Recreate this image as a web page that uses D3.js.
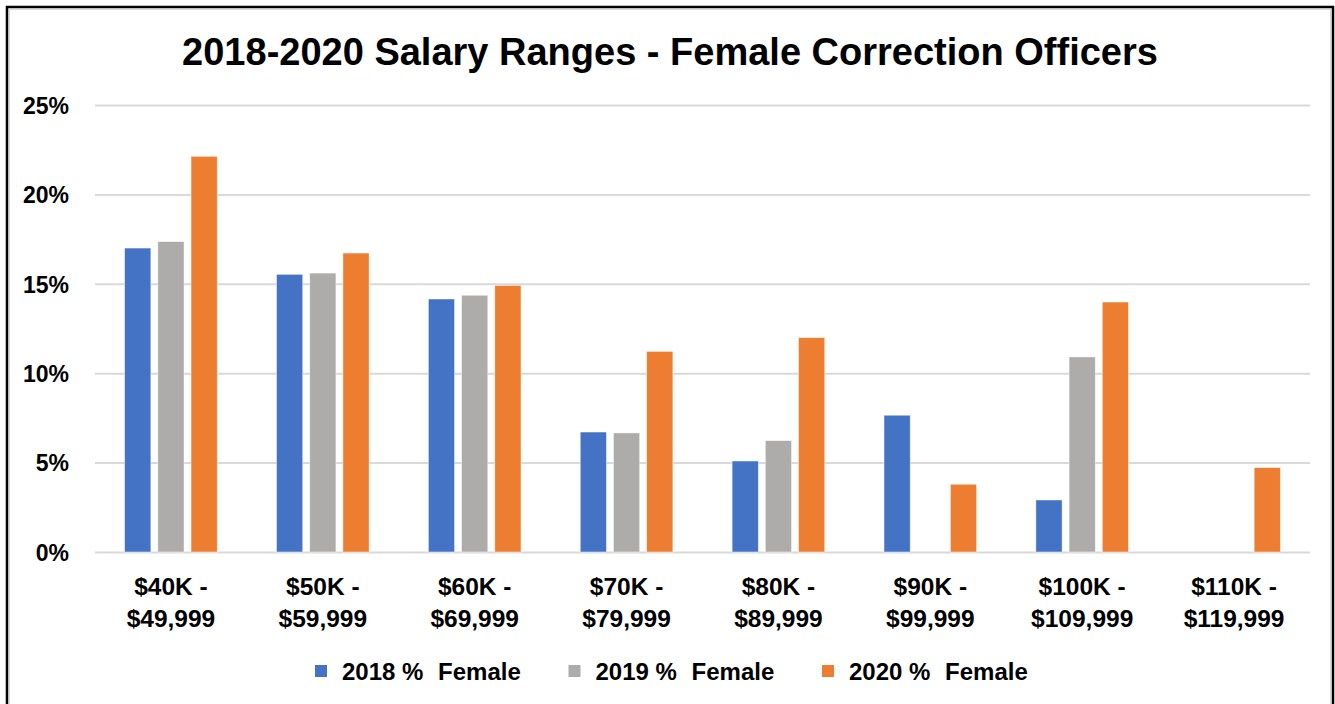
<!DOCTYPE html>
<html>
<head>
<meta charset="utf-8">
<script src="https://cdn.jsdelivr.net/npm/d3@7"></script>
<style>
  body { margin: 0; background: #fff; }
  text { font-family: "Liberation Sans", Arial, sans-serif; font-weight: bold; fill: #000; }
</style>
</head>
<body>
<div id="chart-area"></div>
<script>
// data
var categories = ["$40K - $49,999", "$50K - $59,999", "$60K - $69,999", "$70K - $79,999",
	"$80K - $89,999", "$90K - $99,999", "$100K - $109,999", "$110K - $119,999"];
var seriesNames = ["2018 % Female", "2019 % Female", "2020 % Female"];
var female2018 = [17.0, 15.53, 14.15, 6.71, 5.09, 7.65, 2.91, null];
var female2019 = [17.36, 15.6, 14.36, 6.66, 6.23, null, 10.91, null];
var female2020 = [22.13, 16.72, 14.91, 11.22, 11.99, 3.79, 13.98, 4.72];
var yTicks = [0, 5, 10, 15, 20, 25];
var colors = ["#4472C4", "#AEABAB", "#ED7D31"];

var W = 1335, H = 704;
var svg = d3.select("#chart-area").append("svg").attr("width", W).attr("height", H);

// frame
svg.append("rect").attr("x", 7).attr("y", 7).attr("width", 1326).attr("height", 720)
	.attr("fill", "#fff").attr("stroke", "#000").attr("stroke-width", 2.5);
svg.append("rect").attr("x", 9.5).attr("y", 9.5).attr("width", 1321).attr("height", 720)
	.attr("fill", "none").attr("stroke", "#d9d9d9").attr("stroke-width", 1);

var margin = {left: 95, right: 25, top: 105, bottom: 152};
var width = W - margin.left - margin.right;
var height = H - margin.top - margin.bottom;

var g = svg.append("g").attr("transform", "translate(" + margin.left + ", " + margin.top + ")");

var x0 = d3.scaleBand().domain(categories).range([0, width]).paddingInner(0.39).paddingOuter(0.195);
var x1 = d3.scaleBand().domain(seriesNames).range([0, x0.bandwidth()]).paddingInner(0.21);
var y = d3.scaleLinear().domain([0, 25]).range([height, 0]);

// gridlines + y labels
var leftAxis = d3.axisLeft(y).tickValues(yTicks).tickSize(-width).tickPadding(26).tickFormat(d => d + "%");
var yg = g.append("g").attr("class", "left axis").call(leftAxis);
yg.select(".domain").remove();
yg.selectAll(".tick line").attr("stroke", "#d9d9d9").attr("stroke-width", 2);
yg.selectAll(".tick text").attr("font-size", "23px").attr("dy", "0.36em");

// bars
var table = categories.map((c, i) => ({
	cat: c,
	vals: [female2018[i], female2019[i], female2020[i]]
}));

var groups = g.selectAll(".group").data(table).enter().append("g")
	.attr("class", "group")
	.attr("transform", d => "translate(" + x0(d.cat) + ",0)");

groups.selectAll("rect")
	.data(d => d.vals.map((v, k) => ({name: seriesNames[k], value: v, k: k})).filter(e => e.value != null))
	.enter().append("rect")
	.attr("x", d => x1(d.name))
	.attr("y", d => y(d.value))
	.attr("width", x1.bandwidth())
	.attr("height", d => height - y(d.value))
	.attr("fill", d => colors[d.k])
	.attr("stroke", "#fff")
	.attr("stroke-opacity", 0.6)
	.attr("stroke-width", 0.8);

// x labels (two lines)
var bottomAxis = d3.axisBottom(x0).tickSize(0).tickFormat("");
var xg = g.append("g").attr("class", "bottom axis").attr("transform", "translate(0, " + height + ")").call(bottomAxis);
xg.select(".domain").remove();
xg.selectAll(".tick").each(function(d) {
	var parts = d.split(" - ");
	var t = d3.select(this).append("text")
		.attr("text-anchor", "middle")
		.attr("font-size", "24.5px");
	t.append("tspan").attr("x", 0).attr("y", 43).text(parts[0] + " -");
	t.append("tspan").attr("x", 0).attr("y", 75).text(parts[1]);
});

// title
svg.append("text")
	.attr("x", 670).attr("y", 65)
	.attr("text-anchor", "middle")
	.attr("font-size", "38px")
	.text("2018-2020 Salary Ranges - Female Correction Officers");

// legend
var legendX = d3.scalePoint().domain(seriesNames).range([315, 822]);
var legend = svg.selectAll(".legend").data(seriesNames).enter().append("g")
	.attr("class", "legend")
	.attr("transform", d => "translate(" + legendX(d) + ", 671)");
legend.append("rect").attr("x", 0).attr("y", -6).attr("width", 12).attr("height", 12)
	.attr("fill", (d, i) => colors[i]);
var lt = legend.append("text").attr("x", 27).attr("y", 0).attr("dy", "0.36em")
	.attr("font-size", "24px");
lt.append("tspan").text(d => d.slice(0, d.lastIndexOf(" ")));
lt.append("tspan").attr("dx", 8).text(d => d.slice(d.lastIndexOf(" ")));
</script>
</body>
</html>
